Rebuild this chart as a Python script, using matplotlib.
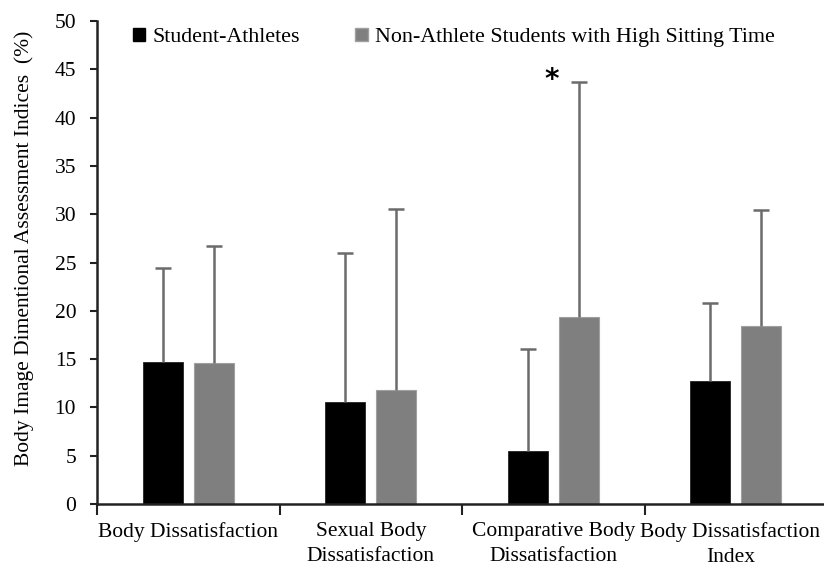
import numpy as np
import matplotlib
matplotlib.use('Agg')
import matplotlib.pyplot as plt
from matplotlib.patches import Patch

# group means and standard deviations (%)
categories = ['Body Dissatisfaction', 'Sexual Body\nDissatisfaction',
              'Comparative Body\nDissatisfaction', 'Body Dissatisfaction\nIndex']
athletes_mean = [14.7, 10.6, 5.5, 12.7]
athletes_sd = [9.7, 15.4, 10.5, 8.1]
sitting_mean = [14.6, 11.8, 19.4, 18.4]
sitting_sd = [12.1, 18.7, 24.3, 12.0]
series_names = ['Student-Athletes', 'Non-Athlete Students with High Sitting Time']
# significant difference marker: (category index, height)
star_pos = (2, 43.9)

plt.rcParams['font.family'] = ['Liberation Serif', 'DejaVu Serif']
plt.rcParams['font.size'] = 15.5

fig = plt.figure(figsize=(8.24, 5.68), dpi=100)
ax = fig.add_axes([97 / 824, 64 / 568, 730 / 824, 483 / 568])

x = np.arange(len(categories))
off, width = 0.14, 0.22
err_color = '#6b6b6b'


# upper-only error bar: stem from the bar top plus a cap
def upper_err(xs, means, sds):
    tops = np.array(means) + np.array(sds)
    ax.vlines(xs, means, tops, colors=err_color, linewidth=1.8, zorder=3)
    ax.plot(xs, tops, ls='none', marker='_', markersize=11, markeredgewidth=1.8,
            color=err_color, zorder=3)


ax.bar(x - off, athletes_mean, width, color='black', edgecolor='#222222', linewidth=0.6)
ax.bar(x + off, sitting_mean, width, color='#7f7f7f', edgecolor='#a0a0a0', linewidth=0.8)
upper_err(x - off, athletes_mean, athletes_sd)
upper_err(x + off, sitting_mean, sitting_sd)

ax.text(star_pos[0] - 0.01, star_pos[1], '*', family='DejaVu Sans', fontweight='bold',
        fontsize=20, ha='center', va='center')

ax.set_xlim(-0.5, len(categories) - 0.5)
ax.set_ylim(0, 50)
ax.set_yticks(np.arange(0, 51, 5))
ax.set_xticks(np.arange(len(categories) + 1) - 0.5)
ax.set_xticklabels([])
# category labels sit on invisible minor ticks; the last one is nudged left
# so it stays inside the figure
label_pos = x.astype(float)
label_pos[-1] -= 0.03
ax.set_xticks(label_pos, minor=True)
ax.set_xticklabels(categories, minor=True, linespacing=1.45)
ax.tick_params(axis='x', which='minor', length=0, pad=13)
ax.tick_params(axis='x', which='major', length=8, width=1.5, color='#222222')
ax.tick_params(axis='y', length=5, width=1.5, color='#222222', pad=10)

ax.spines['top'].set_visible(False)
ax.spines['right'].set_visible(False)
for s in ('left', 'bottom'):
    ax.spines[s].set_linewidth(1.8)
    ax.spines[s].set_color('#222222')

ax.set_ylabel('Body Image Dimentional Assessment Indices  (%)')
ax.yaxis.set_label_coords(-0.086, 0.53)

handles = [Patch(facecolor='black', edgecolor='black'),
           Patch(facecolor='#7f7f7f', edgecolor='#a0a0a0')]
fig.legend(handles, series_names, loc='upper left', ncol=2, frameon=False,
           bbox_to_anchor=(133 / 824, 1 - 28 / 568), borderpad=0, borderaxespad=0,
           prop={'size': 15.8},
           handlelength=0.56, handleheight=0.56, handletextpad=0.35, columnspacing=2.5)

fig.savefig('out.png', dpi=100)
